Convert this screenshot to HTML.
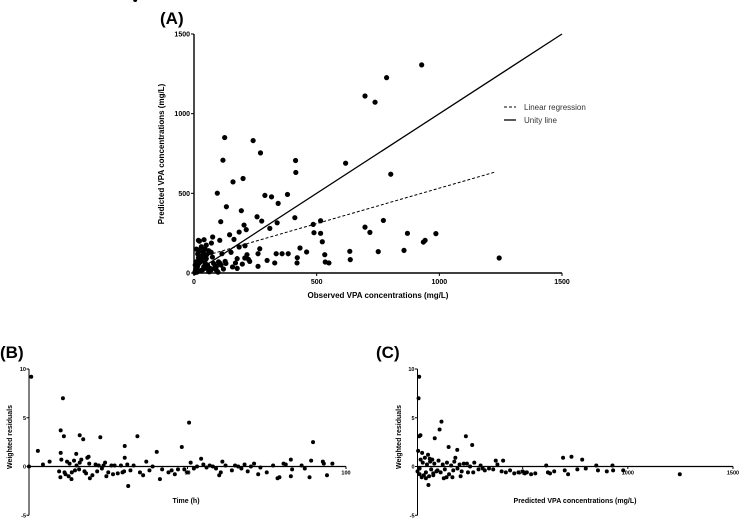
<!DOCTYPE html>
<html><head><meta charset="utf-8">
<style>
body{margin:0;background:#fff;width:743px;height:520px;overflow:hidden;font-family:"Liberation Sans",Arial,sans-serif}
svg{display:block}
text{font-family:"Liberation Sans",Arial,sans-serif}
</style></head>
<body>
<svg id="fig" width="743" height="520"></svg>
<script>
// Panel A data
const obsA=[928,785,697,738,618,802,125,241,271,118,414,415,159,200,95,132,289,316,381,343,193,109,257,276,204,213,184,411,309,339,486,516,489,516,523,533,535,550,635,637,697,717,772,751,870,856,935,942,986,1244,145,163,208,184,216,151,176,105,76,71,41,18,23,268,261,227,261,298,329,335,359,384,421,420,432,459,169,197,157,176,207,222,91,106,114,127,5,10,20,30,40,15,25,45,50,60,70,55,35,65,80,90,100,5,12,28,40,75,85,95,110,50,30,22,8,18,60,45,120,10,130,3,7,14,33,48,62,88,38,26,52,70,98];
const predA=[1306,1226,1111,1072,689,620,850,831,754,708,706,631,572,593,501,416,487,478,493,437,391,322,353,326,301,272,257,347,280,315,305,328,253,249,196,115,69,63,136,84,288,255,330,134,249,142,194,205,247,94,240,211,171,163,115,130,90,205,226,188,209,205,146,152,121,73,42,79,63,121,121,121,96,63,157,132,63,56,38,29,94,86,40,61,121,73,10,30,60,80,100,120,140,150,90,140,130,50,20,30,60,20,70,50,5,15,40,100,35,10,50,175,165,200,70,95,10,65,25,150,60,2,25,40,110,30,8,45,130,70,115,20,5];
const regA=[37,1230];
const regIntercept=88, regSlope=0.4445;
const ticksA=[0,500,1000,1500];
// Panel B data
const timeB=[0.7,10.7,10,11,16,17.1,22.5,34.2,30.2,40.3,48.2,50.5,89.6,2.8,10,14.9,18.8,18.4,6.5,4.4,30.2,54.3,92.7,95.7,82.6,80.3,31.3,41.3,36,60,72.3,78.4,82.6,88.5,13.4,9.9,19.2,24.4,0,9.5,10.2,11.5,12,12.8,13.5,14.2,15,15.8,16.5,17.5,19,20,21,22,23,24,25,26,27,28,29,30,31,32,33,35,37,38,39,42,44,45,46,47,49,50,51,52,53,55,56,57,58,59,60.5,61,62,64,65,66,67,68,69,70,71,73,75,77,79,81,83,86,87,89,93,94,11.2,12.5,14.5,16,18,21.5,23.5,26.5,29.5,33.5];
const resB=[9.2,7.0,3.7,3.1,3.2,2.8,3.0,3.1,2.1,1.5,2.0,4.5,2.5,1.6,1.4,1.3,1.0,0.9,0.5,0.2,0.9,0.8,0.5,0.3,0.7,0.3,-2.0,-1.3,-0.9,-0.9,-0.8,-1.2,-1.0,-1.1,-1.3,-1.1,-1.2,-1.0,0,-0.5,0.7,-0.8,0.5,0.3,-0.6,0.6,0.1,-0.3,0.7,-0.5,0.3,-0.9,0.2,0.1,-0.2,0.4,-0.6,0.1,0.1,-0.7,0.1,-0.5,0.2,-0.4,0.1,-0.6,0.5,-0.4,0,-0.3,-0.6,-0.4,-0.8,-0.3,-0.3,-0.6,0.4,-0.2,0,0.2,-0.1,0.1,0,-0.2,-0.6,0.5,0.1,-0.4,0.1,0,-0.2,0.2,-0.5,0,0.3,-0.1,-0.6,0.1,-1.1,0.2,-0.3,0.1,-0.2,0.6,0.3,-0.9,-0.6,-1.0,-0.4,0.4,-0.7,-0.5,0.1,-0.8,-0.6];
const ticksBx=[50,100];
const ticksBy=[-5,0,5,10];
// Panel C data
const predC=[8,5,114,105,14,8,82,230,148,260,189,692,732,783,927,1247,372,407,612,52,138,166,716,630,858,930,978,0,3,10,15,20,25,30,35,40,45,50,55,60,65,70,75,80,90,100,110,120,130,140,150,160,170,180,190,200,210,220,240,250,270,290,300,320,340,360,380,400,420,440,460,480,500,510,520,540,560,620,650,700,760,800,850,900,10,22,40,58,75,95,125,175,205,235,265,310];
const resC=[9.2,7.0,4.6,3.8,3.2,3.1,2.9,3.1,2.0,2.2,1.7,0.9,1.0,0.7,0.1,-0.8,0.6,0.6,0.1,-1.9,-1.1,-1.1,-0.8,-0.7,-0.4,-0.4,-0.4,-0.5,1.6,-0.8,0.7,-1.1,0.4,-0.9,0.9,-0.6,0.2,1.2,-1.0,0.5,-0.3,0.7,-0.7,0.3,-0.5,0.6,-0.6,0.2,-0.3,0.4,-0.8,0.1,-0.4,0.9,-0.2,0.2,-0.5,0.3,-0.6,0,0.4,-0.3,0.1,-0.4,-0.2,-0.3,0.2,-0.5,-0.6,-0.4,-0.7,-0.6,-0.5,-0.7,-0.6,-0.8,-0.7,-0.6,-0.5,-0.4,-0.3,-0.2,0.1,-0.5,-0.2,1.4,-1.2,0.8,-0.9,-0.4,-1.2,0.5,-1.0,0.3,-0.6,-0.2];
const ticksCx=[500,1000,1500];
const ticksCy=[-5,0,5,10];

const NS='http://www.w3.org/2000/svg';
const svg=document.getElementById('fig');
function el(tag,attrs,parent){const e=document.createElementNS(NS,tag);for(const k in attrs)e.setAttribute(k,attrs[k]);(parent||svg).appendChild(e);return e;}
function txt(s,attrs,parent){const e=el('text',attrs,parent);e.textContent=s;return e;}

// ---------- Panel A ----------
const gA=el('g',{});


const xA=v=>194+v*(562-194)/1500, yA=v=>273-v*(273-34)/1500;
const tA=txt('(A)',{x:160,y:24,'font-size':17,'font-weight':'bold'},gA);


const axA=el('path',{d:`M${xA(0)},${yA(1500)}V${yA(0)}H${xA(1500)}`,stroke:'#000','stroke-width':1.4,fill:'none'},gA);


ticksA.forEach(t=>{
  el('line',{x1:xA(t),x2:xA(t),y1:yA(0),y2:yA(0)+3,stroke:'#000'},gA);
  el('line',{x1:xA(0)-3,x2:xA(0),y1:yA(t),y2:yA(t),stroke:'#000'},gA);
  const a=txt(t,{x:xA(t),y:yA(0)+11,'font-size':7,'font-weight':'bold','text-anchor':'middle'},gA);
  
  
  const b=txt(t,{x:xA(0)-4,y:yA(t)+2.5,'font-size':7,'font-weight':'bold','text-anchor':'end'},gA);
  
  
});
const xlA=txt('Observed VPA concentrations (mg/L)',{x:378,y:298,'font-size':8,'font-weight':'bold','text-anchor':'middle'},gA);


const ylA=txt('Predicted VPA concentrations (mg/L)',{x:0,y:0,'font-size':8,'font-weight':'bold','text-anchor':'middle',transform:'translate(164,154) rotate(-90)'},gA);


const uni=el('line',{x1:xA(0),y1:yA(0),x2:xA(1500),y2:yA(1500),stroke:'#000','stroke-width':1.3},gA);


const reg=el('line',{x1:xA(regA[0]),y1:yA(regIntercept+regSlope*regA[0]),x2:xA(regA[1]),y2:yA(regIntercept+regSlope*regA[1]),stroke:'#000','stroke-width':1,'stroke-dasharray':'3,2'},gA);


obsA.forEach((o,i)=>{
  const c=el('circle',{cx:xA(o),cy:yA(predA[i]),r:2.6,fill:'#000'},gA);
  
  
});
const lg=el('g',{},gA);


el('line',{x1:504,x2:516,y1:107,y2:107,stroke:'#000','stroke-dasharray':'3,2'},lg);
el('line',{x1:504,x2:516,y1:120,y2:120,stroke:'#000','stroke-width':1.3},lg);
const l1=txt('Linear regression',{x:524,y:110,'font-size':8,fill:'#333'},lg);


const l2=txt('Unity line',{x:524,y:123,'font-size':8,fill:'#333'},lg);



// ---------- Residual panels ----------
function residPanel(name,title,tx,x0,x1,xmax,xs,ys,xticks,yticks,xlabel,xlx,ylx){
  const g=el('g',{});
  
  
  const X=v=>x0+v*(x1-x0)/xmax, Y=v=>466.5-v*(466.5-369)/10;
  const t=txt(title,{x:tx,y:358,'font-size':17,'font-weight':'bold'},g);
  
  
  const ya=el('line',{x1:x0,x2:x0,y1:Y(10),y2:Y(-5),stroke:'#000','stroke-width':1},g);
  
  
  const xa=el('line',{x1:x0,x2:X(xmax),y1:Y(0),y2:Y(0),stroke:'#000','stroke-width':1.3},g);
  
  
  yticks.forEach(v=>{
    el('line',{x1:x0-2.5,x2:x0,y1:Y(v),y2:Y(v),stroke:'#000'},g);
    const a=txt(v,{x:x0-3,y:Y(v)+2,'font-size':5.5,'font-weight':'bold','text-anchor':'end'},g);
    
    
  });
  xticks.forEach(v=>{
    el('line',{x1:X(v),x2:X(v),y1:Y(0),y2:Y(0)+2.5,stroke:'#000'},g);
    const a=txt(v,{x:X(v),y:Y(0)+8,'font-size':5.5,'font-weight':'bold','text-anchor':'middle'},g);
    
    
  });
  const xl=txt(xlabel,{x:xlx,y:503,'font-size':7,'font-weight':'bold','text-anchor':'middle'},g);
  
  
  const yl=txt('Weighted residuals',{x:0,y:0,'font-size':7,'font-weight':'bold','text-anchor':'middle',transform:`translate(${ylx},437) rotate(-90)`},g);
  
  
  xs.forEach((v,i)=>{
    const c=el('circle',{cx:X(v),cy:Y(ys[i]),r:2,fill:'#000'},g);
    
    
  });
}
residPanel('panel-b','(B)',0,29,346,100,timeB,resB,ticksBx,ticksBy,'Time (h)',186,12);
residPanel('panel-c','(C)',376,417.5,733,1500,predC,resC,ticksCx,ticksCy,'Predicted VPA concentrations (mg/L)',575,401);
</script>
</body></html>
